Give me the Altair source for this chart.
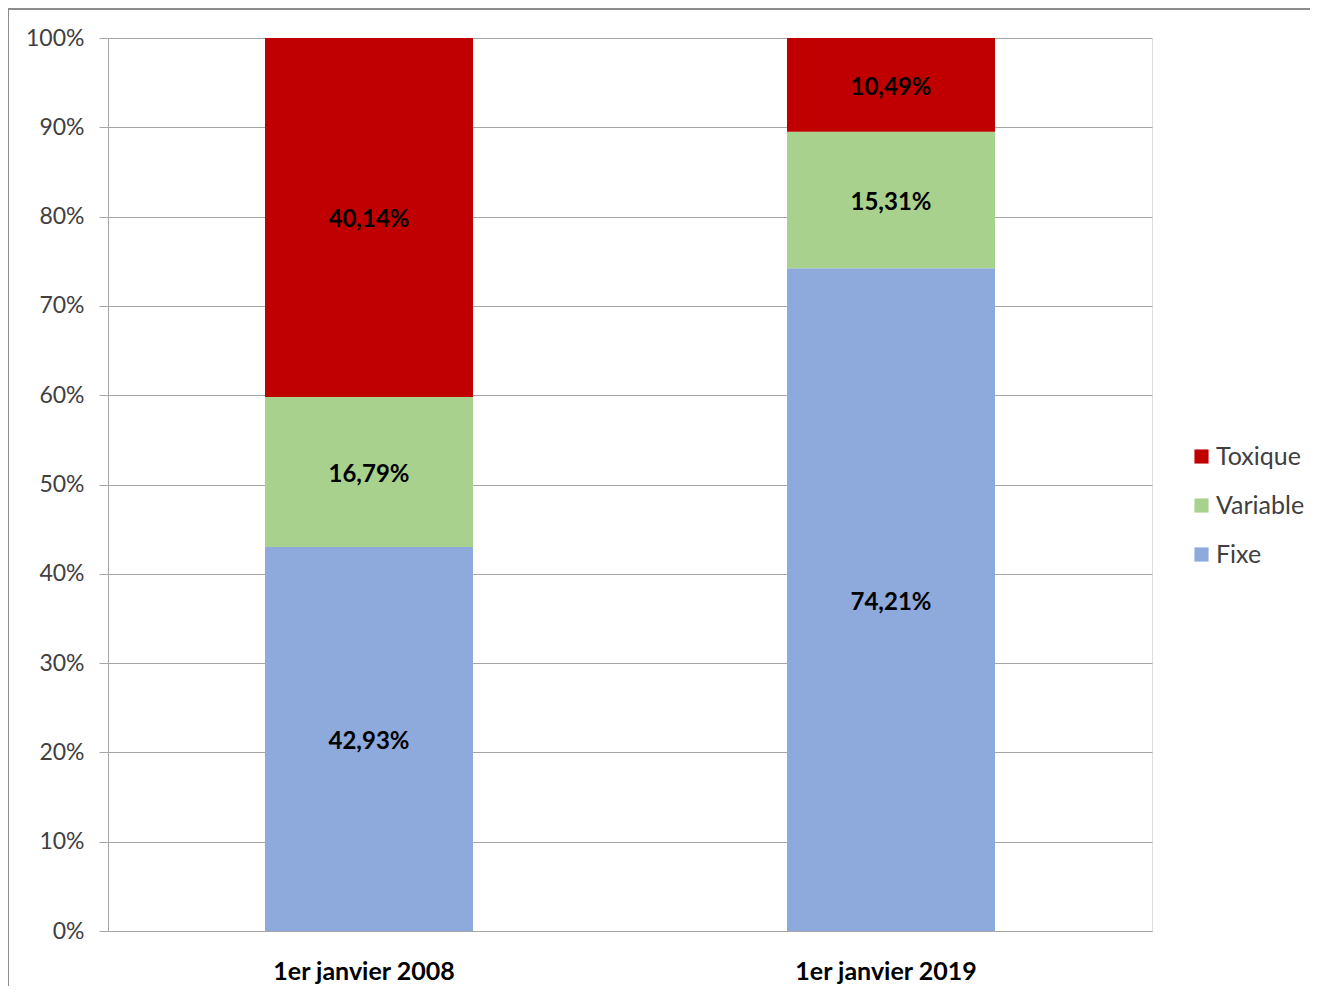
import altair as alt
import pandas as pd

dates = ["1er janvier 2008", "1er janvier 2008", "1er janvier 2008",
         "1er janvier 2019", "1er janvier 2019", "1er janvier 2019"]
series = ["Fixe", "Variable", "Toxique", "Fixe", "Variable", "Toxique"]
values = [42.93, 16.79, 40.14, 74.21, 15.31, 10.49]
stack_rank = [0, 1, 2, 0, 1, 2]

legend_order = ["Toxique", "Variable", "Fixe"]
legend_colors = ["#C00000", "#A9D18E", "#8EA9DB"]
y_ticks = [0, 0.1, 0.2, 0.3, 0.4, 0.5, 0.6, 0.7, 0.8, 0.9, 1.0]

df = pd.DataFrame({"date": dates, "serie": series, "value": values, "rank": stack_rank})

W, H = 1044, 893
FONT = "Lato"

base = alt.Chart(df).transform_stack(
    stack="value", groupby=["date"], sort=[alt.SortField("rank", order="ascending")],
    offset="normalize", as_=["y0", "y1"]
).transform_calculate(
    mid="(datum.y0 + datum.y1) / 2",
    label="replace(format(datum.value, '.2f'), '.', ',') + '%'"
)

x_enc = alt.X("date:N", title=None, sort=["1er janvier 2008", "1er janvier 2019"],
              scale=alt.Scale(paddingInner=0, paddingOuter=0),
              axis=alt.Axis(labelAngle=0, ticks=False, labelFontWeight="bold",
                            labelFontSize=25, labelColor="#000000", labelPadding=28,
                            labelLimit=0, domainColor="#A6A6A6", labelFont=FONT,
                            labelOffset=-5))

bars = base.mark_bar(size=208).encode(
    x=x_enc,
    y=alt.Y("y0:Q", title=None, scale=alt.Scale(domain=[0, 1], nice=False),
            axis=alt.Axis(values=y_ticks, format=".0%", grid=True, gridColor="#A6A6A6",
                          tickColor="#A6A6A6", tickSize=9, domainColor="#A6A6A6",
                          labelFontSize=23, labelColor="#404040", labelPadding=15,
                          labelFont=FONT)),
    y2="y1:Q",
    color=alt.Color("serie:N", title=None,
                    scale=alt.Scale(domain=legend_order, range=legend_colors),
                    legend=alt.Legend(orient="none", legendX=1081, legendY=406,
                                      symbolType="square", symbolSize=200,
                                      symbolStrokeWidth=0, labelFontSize=25,
                                      labelColor="#404040", rowPadding=23,
                                      labelLimit=0, labelFont=FONT, labelOffset=2)),
)

texts = base.mark_text(fontSize=24, fontWeight="bold", color="#000000", font=FONT,
                       dy=3).encode(
    x=alt.X("date:N", sort=["1er janvier 2008", "1er janvier 2019"]),
    y=alt.Y("mid:Q"),
    text="label:N",
)

frame_top = alt.Chart(df).mark_rule(color="#8C8C8C", strokeWidth=1.5).encode(
    x=alt.value(-100), x2=alt.value(1210), y=alt.value(-29)
)
frame_left = alt.Chart(df).mark_rule(color="#8C8C8C", strokeWidth=1.5).encode(
    x=alt.value(-100), y=alt.value(-29), y2=alt.value(960)
)

chart = alt.layer(bars, texts, frame_top, frame_left).properties(
    width=W, height=H,
    autosize=alt.AutoSizeParams(type="none"),
    padding={"left": 100, "top": 30, "right": 158, "bottom": 55},
).configure_view(stroke=None).configure(background="#FFFFFF")

chart.save("out.html", embed_options={"renderer": "svg", "actions": False})
